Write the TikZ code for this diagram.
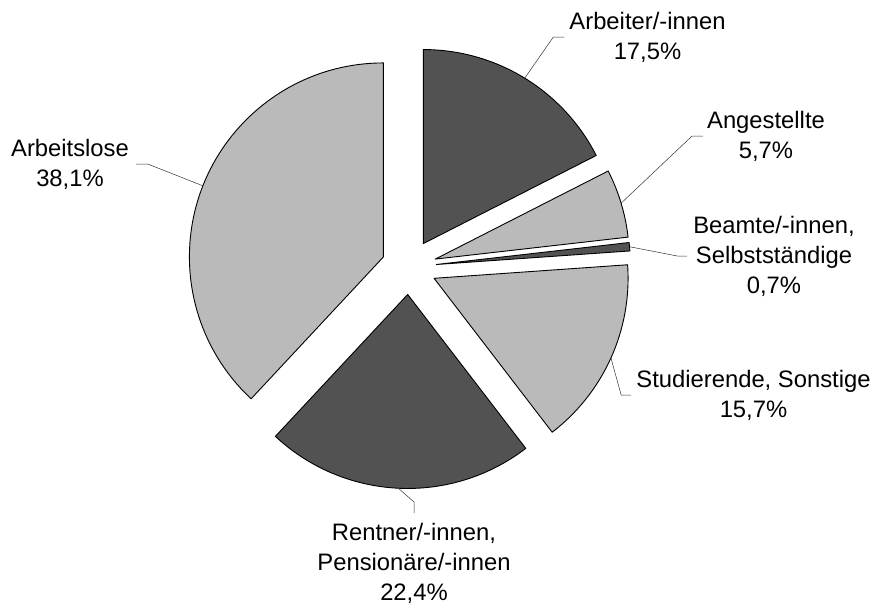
\documentclass[tikz,border=0pt]{standalone}
\usepackage{fontspec}
\setmainfont{Liberation Sans}
\usepackage{tikz}

\begin{document}
\begin{tikzpicture}[x=1pt,y=1pt,
  dark/.style={fill=black!68,draw=black,line width=0.9pt,line join=round},
  light/.style={fill=black!27,draw=black,line width=0.9pt,line join=round},
  lab/.style={align=center,anchor=north,inner sep=0pt,font=\fontsize{23.8}{30}\selectfont},
  leader/.style={line width=0.5pt,black!80}]
\useasboundingbox (-409,-339) rectangle (468,267);

% slices, each pushed out from the middle
\draw [dark,shift={(58.5:27.5)}] (0,0) -- (90:194) arc[start angle=90,end angle=27,radius=194] -- cycle;
\draw [light,shift={(16.75:27.5)}] (0,0) -- (27:194) arc[start angle=27,end angle=6.5,radius=194] -- cycle;
\draw [dark,shift={(5.25:27.5)}] (0,0) -- (6.5:194) arc[start angle=6.5,end angle=4,radius=194] -- cycle;
\draw [light,shift={(-24.25:27.5)}] (0,0) -- (4:194) arc[start angle=4,end angle=-52.5,radius=194] -- cycle;
\draw [dark,shift={(-92.75:27.5)}] (0,0) -- (-52.5:194) arc[start angle=-52.5,end angle=-133,radius=194] -- cycle;
\draw [light,shift={(158.5:27.5)}] (0,0) -- (90:194) arc[start angle=90,end angle=227,radius=194] -- cycle;

\coordinate (arbp) at (58.5:221.5);
\coordinate (angp) at (16.75:221.5);
\coordinate (beap) at (5.25:221.5);
\coordinate (stup) at (-24.25:221.5);
\coordinate (renp) at (-92.75:221.5);
\coordinate (alop) at (158.5:221.5);

\node [lab] (arb) at(238.5,255.2){Arbeiter/-innen\\17,5\%};
\node [lab] (ang) at(357,156.2){Angestellte\\5,7\%};
\node [lab] (bea) at(365,51.2){Beamte/-innen,\\Selbstständige\\0,7\%};
\node [lab] (stu) at(344.5,-102.8){Studierende, Sonstige\\15,7\%};
\node [lab] (ren) at(5,-256){Rentner/-innen,\\Pensionäre/-innen\\22,4\%};
\node [lab] (alo) at(-339,128.2){Arbeitslose\\38,1\%};

%\draw[leader](arbp) -- (arb);
\draw[leader](arbp) -- ([xshift=-16]arb.west) -- ([xshift=-5]arb.west);
\draw[leader](angp) -- ([xshift=-15]ang.west) -- ([xshift=-4]ang.west);
\draw[leader](beap) -- ([xshift=-15]bea.west) -- ([xshift=-6]bea.west);
\draw[leader](stup) -- ([xshift=-15]stu.west) -- ([xshift=-5]stu.west);
\draw[leader](renp) -- ([yshift=21]ren.north) -- ([yshift=10]ren.north);
\draw[leader](alop) -- ([xshift=19]alo.east) -- ([xshift=7]alo.east);
\end{tikzpicture}
\end{document}
